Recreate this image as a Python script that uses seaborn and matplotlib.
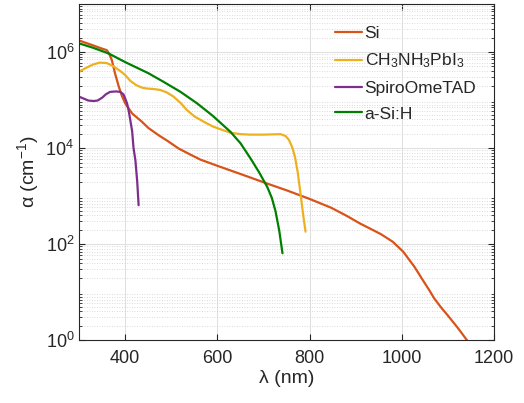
import matplotlib
matplotlib.use("Agg")
from matplotlib import pyplot as plt
from matplotlib.ticker import LogLocator, NullFormatter, FixedLocator
import seaborn as sns
import pandas as pd
import numpy as np

# wavelength (nm) and log10 of absorption coefficient (cm^-1)
si_nm = [300, 330, 350, 360, 365, 371, 378, 386, 393, 400, 415, 436, 450, 472,
         490, 516, 540, 563, 600, 650, 708, 750, 800, 846, 880, 909, 954, 980,
         1003, 1027, 1048, 1060, 1070, 1085, 1099, 1120, 1141]
si_log = [6.24, 6.14, 6.07, 6.04, 5.97, 5.83, 5.55, 5.28, 5.08, 4.93, 4.72,
          4.55, 4.42, 4.27, 4.16, 3.99, 3.87, 3.76, 3.63, 3.46, 3.26, 3.12,
          2.94, 2.76, 2.59, 2.43, 2.21, 2.05, 1.84, 1.53, 1.21, 1.03, 0.87,
          0.68, 0.52, 0.27, 0.0]

mapi_nm = [300, 315, 330, 345, 360, 375, 390, 400, 411, 424, 436, 447, 462,
           476, 490, 505, 520, 534, 550, 570, 590, 607, 628, 650, 670, 700,
           737, 748, 755, 762, 768, 774, 780, 786, 791]
mapi_log = [5.59, 5.67, 5.74, 5.78, 5.77, 5.70, 5.60, 5.52, 5.40, 5.31, 5.26,
            5.24, 5.23, 5.21, 5.16, 5.07, 4.94, 4.79, 4.66, 4.55, 4.45, 4.39,
            4.32, 4.29, 4.28, 4.28, 4.29, 4.25, 4.17, 4.02, 3.82, 3.50, 3.06,
            2.60, 2.26]

spiro_nm = [300, 310, 320, 331, 340, 350, 358, 367, 380, 389, 396, 400, 404,
            408, 411, 415, 418, 422, 426, 429]
spiro_log = [5.07, 5.03, 4.99, 4.98, 4.99, 5.05, 5.12, 5.17, 5.18, 5.17, 5.12,
             5.03, 4.93, 4.75, 4.58, 4.35, 4.00, 3.75, 3.30, 2.81]

asi_nm = [300, 330, 364, 400, 450, 483, 520, 556, 590, 628, 650, 672, 690,
          708, 718, 726, 734, 741]
asi_log = [6.18, 6.09, 5.97, 5.79, 5.56, 5.38, 5.17, 4.93, 4.67, 4.34, 4.10,
           3.78, 3.50, 3.19, 2.96, 2.68, 2.28, 1.81]

labels = ["Si", r"CH$_3$NH$_3$PbI$_3$", "SpiroOmeTAD", "a-Si:H"]
colors = ["#D95319", "#EDB120", "#7E2F8E", "#008000"]

frames = []
for lab, x, y in zip(labels, [si_nm, mapi_nm, spiro_nm, asi_nm],
                     [si_log, mapi_log, spiro_log, asi_log]):
    frames.append(pd.DataFrame({"nm": x, "alpha": 10.0 ** np.array(y),
                                "material": lab}))
df = pd.concat(frames, ignore_index=True)

sns.set_style("ticks")
plt.rcParams['font.family'] = ['Liberation Sans', 'DejaVu Sans']
plt.rcParams['mathtext.fontset'] = 'custom'
plt.rcParams['mathtext.rm'] = 'Liberation Sans'
plt.rcParams['mathtext.it'] = 'Liberation Sans:italic'

fig = plt.figure(figsize=(5.24, 4.03), dpi=100)
ax = fig.add_axes([0.151, 0.156, 0.792, 0.834])

sns.lineplot(data=df, x="nm", y="alpha", hue="material", hue_order=labels,
             palette=colors, linewidth=1.6, sort=False, estimator=None, ax=ax)

ax.set_yscale("log")
ax.set_xlim(300, 1200)
ax.set_ylim(1, 1e7)
ax.xaxis.set_major_locator(FixedLocator([400, 600, 800, 1000, 1200]))
ax.yaxis.set_major_locator(FixedLocator([1, 1e2, 1e4, 1e6]))
ax.yaxis.set_minor_locator(LogLocator(base=10, subs=np.arange(2, 10), numticks=20))
ax.yaxis.set_minor_formatter(NullFormatter())
ax.set_yticklabels([r"10$^0$", r"10$^2$", r"10$^4$", r"10$^6$"])

ax.grid(True, which="major", color="#dedede", linewidth=0.7)
ax.grid(True, which="minor", axis="y", color="#cfcfcf", linewidth=0.6,
        linestyle=(0, (1, 2)))
ax.set_axisbelow(True)

ax.tick_params(direction="in", which="both", top=True, right=True,
               labelsize=13, colors="#262626", length=4)
ax.tick_params(axis="x", pad=7)
ax.tick_params(which="minor", length=2)
for s in ax.spines.values():
    s.set_color("#262626")
    s.set_linewidth(0.8)

ax.set_xlabel("\u03bb (nm)", fontsize=14, color="#262626", labelpad=2)
ax.set_ylabel("\u03b1 (cm$^{-1}$)", fontsize=14, color="#262626", labelpad=3)

leg = ax.legend(loc="upper left", bbox_to_anchor=(0.6, 0.955), frameon=False,
                fontsize=12.5, handlelength=1.55, handletextpad=0.15,
                labelspacing=0.6, borderaxespad=0.0)
for h in leg.get_lines():
    h.set_linewidth(1.6)

fig.savefig("out.png", dpi=100)
